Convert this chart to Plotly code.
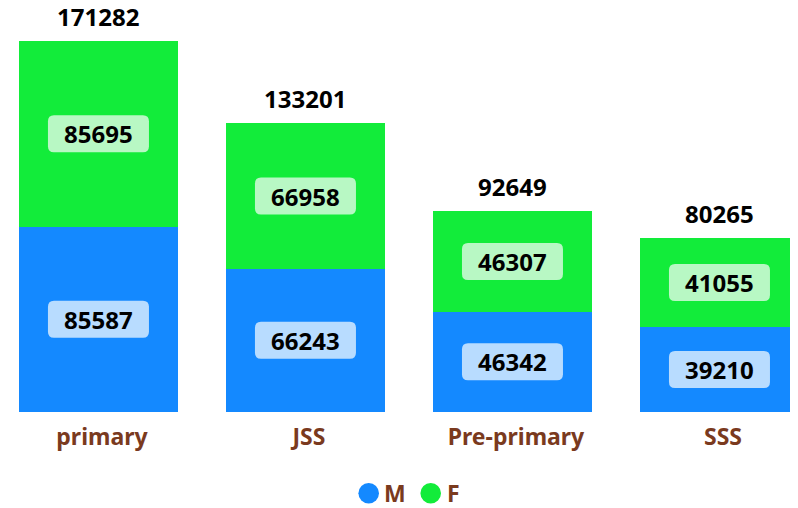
import plotly.graph_objects as go

categories = ["primary", "JSS", "Pre-primary", "SSS"]
male = [85587, 66243, 46342, 39210]
female = [85695, 66958, 46307, 41055]
totals = [171282, 133201, 92649, 80265]
series_names = ["M", "F"]

BLUE = "#1489ff"
GREEN = "#12ec3a"
LBLUE = "#b8dcff"
LGREEN = "#b8f8c4"
BROWN = "#7a3a1e"
FONT = "Noto Sans"

xs = list(range(len(categories)))
BW = 0.768

fig = go.Figure()
fig.add_trace(go.Bar(x=xs, y=male, name=series_names[0], marker=dict(color=BLUE, line=dict(width=0)),
                     width=BW, showlegend=False, hoverinfo="skip"))
fig.add_trace(go.Bar(x=xs, y=female, name=series_names[1], marker=dict(color=GREEN, line=dict(width=0)),
                     width=BW, showlegend=False, hoverinfo="skip"))

# rounded label box path in pixels relative to anchor
HW, HH, R = 50.5, 18.5, 6
box = (f"M {-HW+R},{-HH} L {HW-R},{-HH} Q {HW},{-HH} {HW},{-HH+R} "
       f"L {HW},{HH-R} Q {HW},{HH} {HW-R},{HH} L {-HW+R},{HH} "
       f"Q {-HW},{HH} {-HW},{HH-R} L {-HW},{-HH+R} Q {-HW},{-HH} {-HW+R},{-HH} Z")

shapes = []
annos = []
lab_font = dict(family=FONT, size=24, color="black", weight="bold")
for i, (m, f, t) in enumerate(zip(male, female, totals)):
    for yc, val, bg in ((m / 2, m, LBLUE), (m + f / 2, f, LGREEN)):
        shapes.append(dict(type="path", xref="x", yref="y", xsizemode="pixel", ysizemode="pixel",
                           xanchor=i, yanchor=yc, path=box, fillcolor=bg,
                           line=dict(width=0), layer="above"))
        annos.append(dict(x=i, y=yc, text=str(val), showarrow=False, font=lab_font))
    annos.append(dict(x=i, y=t, text=str(t), showarrow=False, yanchor="bottom", yshift=6,
                      font=lab_font))

# custom legend (circle markers + labels) below the plot
LEG_Y = -0.2012
RAD = 10.3
for cx, tx, col, name in ((0.452, 0.4687, BLUE, series_names[0]),
                          (0.5297, 0.547, GREEN, series_names[1])):
    shapes.append(dict(type="circle", xref="paper", yref="paper", xsizemode="pixel",
                       ysizemode="pixel", xanchor=cx, yanchor=LEG_Y,
                       x0=-RAD, x1=RAD, y0=-RAD, y1=RAD, fillcolor=col,
                       line=dict(width=0), layer="above"))
    annos.append(dict(xref="paper", yref="paper", x=tx, y=LEG_Y, xanchor="left",
                      yanchor="middle", text=name, showarrow=False,
                      font=dict(family=FONT, size=23, color=BROWN, weight="bold")))

fig.update_layout(
    barmode="stack",
    width=798, height=508,
    margin=dict(l=0, r=0, t=0, b=104),
    plot_bgcolor="white", paper_bgcolor="white",
    annotations=annos,
    shapes=shapes,
    showlegend=False,
    xaxis=dict(range=[-0.437, 3.418], tickmode="array",
               tickvals=[v + 0.017 for v in xs], ticktext=categories,
               showgrid=False, zeroline=False, showline=False, ticks="",
               tickfont=dict(family=FONT, size=23, color=BROWN, weight="bold"),
               ticklabelstandoff=9),
    yaxis=dict(range=[0, 186519], visible=False, showgrid=False, zeroline=False),
)

fig.write_html("out.html")
